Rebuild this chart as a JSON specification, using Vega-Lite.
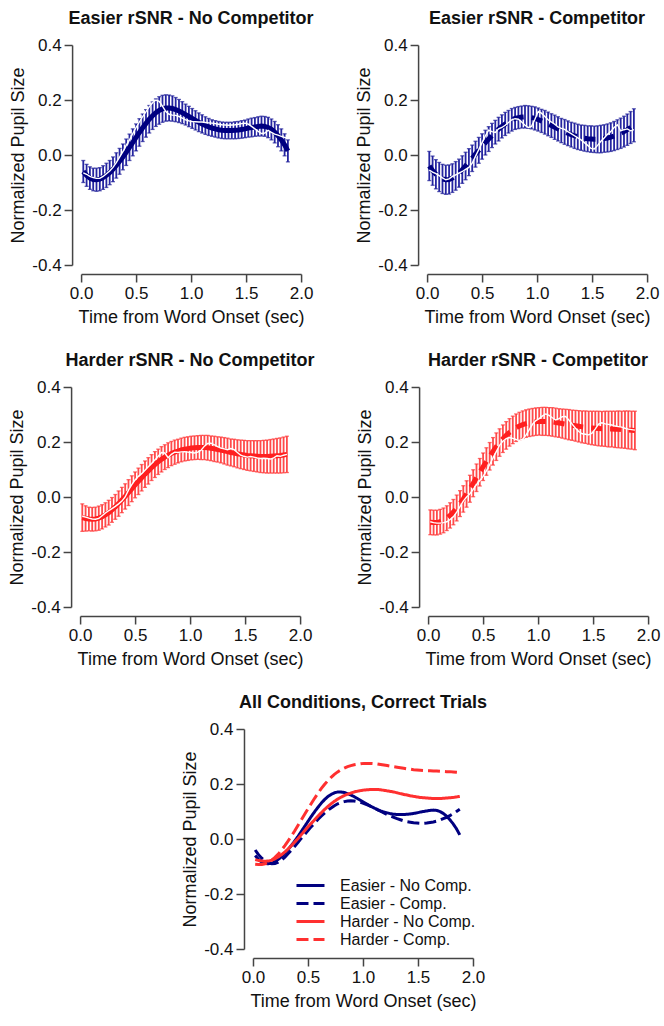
{
"$schema":"https://vega.github.io/schema/vega-lite/v6.json",
"padding":{"left":8,"top":10,"right":5,"bottom":5},
"datasets":{"d":[
{"c":"EN","t":0.02,"f":-0.06,"lo":-0.1,"hi":-0.02,"r":-0.065},
{"c":"EN","t":0.05,"f":-0.074,"lo":-0.114,"hi":-0.034,"r":-0.07},
{"c":"EN","t":0.08,"f":-0.084,"lo":-0.125,"hi":-0.043,"r":-0.078},
{"c":"EN","t":0.11,"f":-0.089,"lo":-0.13,"hi":-0.048,"r":-0.082},
{"c":"EN","t":0.14,"f":-0.09,"lo":-0.132,"hi":-0.048,"r":-0.085},
{"c":"EN","t":0.17,"f":-0.088,"lo":-0.13,"hi":-0.046,"r":-0.085},
{"c":"EN","t":0.2,"f":-0.082,"lo":-0.125,"hi":-0.039,"r":-0.078},
{"c":"EN","t":0.23,"f":-0.074,"lo":-0.118,"hi":-0.03,"r":-0.068},
{"c":"EN","t":0.26,"f":-0.064,"lo":-0.108,"hi":-0.02,"r":-0.058},
{"c":"EN","t":0.29,"f":-0.052,"lo":-0.097,"hi":-0.007,"r":-0.045},
{"c":"EN","t":0.32,"f":-0.038,"lo":-0.084,"hi":0.008,"r":-0.028},
{"c":"EN","t":0.35,"f":-0.023,"lo":-0.07,"hi":0.024,"r":-0.008},
{"c":"EN","t":0.38,"f":-0.007,"lo":-0.054,"hi":0.04,"r":0.012},
{"c":"EN","t":0.41,"f":0.01,"lo":-0.038,"hi":0.058,"r":0.035},
{"c":"EN","t":0.44,"f":0.028,"lo":-0.02,"hi":0.076,"r":0.055},
{"c":"EN","t":0.47,"f":0.046,"lo":-0.003,"hi":0.095,"r":0.078},
{"c":"EN","t":0.5,"f":0.064,"lo":0.015,"hi":0.113,"r":0.1},
{"c":"EN","t":0.53,"f":0.082,"lo":0.032,"hi":0.132,"r":0.12},
{"c":"EN","t":0.56,"f":0.099,"lo":0.049,"hi":0.149,"r":0.14},
{"c":"EN","t":0.59,"f":0.115,"lo":0.065,"hi":0.165,"r":0.158},
{"c":"EN","t":0.62,"f":0.13,"lo":0.08,"hi":0.18,"r":0.175},
{"c":"EN","t":0.65,"f":0.143,"lo":0.093,"hi":0.193,"r":0.19},
{"c":"EN","t":0.68,"f":0.154,"lo":0.104,"hi":0.204,"r":0.2},
{"c":"EN","t":0.71,"f":0.162,"lo":0.112,"hi":0.212,"r":0.195},
{"c":"EN","t":0.74,"f":0.168,"lo":0.119,"hi":0.217,"r":0.178},
{"c":"EN","t":0.77,"f":0.171,"lo":0.123,"hi":0.219,"r":0.158},
{"c":"EN","t":0.8,"f":0.171,"lo":0.124,"hi":0.218,"r":0.148},
{"c":"EN","t":0.83,"f":0.169,"lo":0.123,"hi":0.215,"r":0.145},
{"c":"EN","t":0.86,"f":0.165,"lo":0.121,"hi":0.209,"r":0.144},
{"c":"EN","t":0.89,"f":0.16,"lo":0.118,"hi":0.202,"r":0.14},
{"c":"EN","t":0.92,"f":0.154,"lo":0.114,"hi":0.194,"r":0.134},
{"c":"EN","t":0.95,"f":0.147,"lo":0.109,"hi":0.185,"r":0.128},
{"c":"EN","t":0.98,"f":0.14,"lo":0.103,"hi":0.177,"r":0.124},
{"c":"EN","t":1.01,"f":0.133,"lo":0.097,"hi":0.169,"r":0.122},
{"c":"EN","t":1.04,"f":0.126,"lo":0.091,"hi":0.161,"r":0.121},
{"c":"EN","t":1.07,"f":0.119,"lo":0.085,"hi":0.153,"r":0.12},
{"c":"EN","t":1.1,"f":0.113,"lo":0.08,"hi":0.146,"r":0.12},
{"c":"EN","t":1.13,"f":0.107,"lo":0.075,"hi":0.139,"r":0.118},
{"c":"EN","t":1.16,"f":0.102,"lo":0.071,"hi":0.133,"r":0.117},
{"c":"EN","t":1.19,"f":0.098,"lo":0.068,"hi":0.128,"r":0.116},
{"c":"EN","t":1.22,"f":0.095,"lo":0.065,"hi":0.125,"r":0.114},
{"c":"EN","t":1.25,"f":0.092,"lo":0.062,"hi":0.122,"r":0.112},
{"c":"EN","t":1.28,"f":0.09,"lo":0.06,"hi":0.12,"r":0.11},
{"c":"EN","t":1.31,"f":0.089,"lo":0.059,"hi":0.119,"r":0.109},
{"c":"EN","t":1.34,"f":0.089,"lo":0.059,"hi":0.119,"r":0.108},
{"c":"EN","t":1.37,"f":0.089,"lo":0.059,"hi":0.119,"r":0.109},
{"c":"EN","t":1.4,"f":0.09,"lo":0.059,"hi":0.121,"r":0.11},
{"c":"EN","t":1.43,"f":0.091,"lo":0.06,"hi":0.122,"r":0.112},
{"c":"EN","t":1.46,"f":0.093,"lo":0.061,"hi":0.125,"r":0.114},
{"c":"EN","t":1.49,"f":0.095,"lo":0.063,"hi":0.127,"r":0.116},
{"c":"EN","t":1.52,"f":0.098,"lo":0.065,"hi":0.131,"r":0.112},
{"c":"EN","t":1.55,"f":0.1,"lo":0.066,"hi":0.134,"r":0.104},
{"c":"EN","t":1.58,"f":0.102,"lo":0.068,"hi":0.136,"r":0.095},
{"c":"EN","t":1.61,"f":0.104,"lo":0.069,"hi":0.139,"r":0.086},
{"c":"EN","t":1.64,"f":0.105,"lo":0.069,"hi":0.141,"r":0.078},
{"c":"EN","t":1.67,"f":0.104,"lo":0.068,"hi":0.14,"r":0.08},
{"c":"EN","t":1.7,"f":0.1,"lo":0.063,"hi":0.137,"r":0.09},
{"c":"EN","t":1.73,"f":0.093,"lo":0.055,"hi":0.131,"r":0.082},
{"c":"EN","t":1.76,"f":0.083,"lo":0.044,"hi":0.122,"r":0.076},
{"c":"EN","t":1.79,"f":0.07,"lo":0.03,"hi":0.11,"r":0.072},
{"c":"EN","t":1.82,"f":0.055,"lo":0.015,"hi":0.095,"r":0.068},
{"c":"EN","t":1.85,"f":0.037,"lo":-0.003,"hi":0.077,"r":0.064},
{"c":"EN","t":1.88,"f":0.015,"lo":-0.025,"hi":0.055,"r":0.06},
{"c":"EC","t":0.02,"f":-0.04,"lo":-0.093,"hi":0.013,"r":-0.055},
{"c":"EC","t":0.05,"f":-0.057,"lo":-0.11,"hi":-0.004,"r":-0.062},
{"c":"EC","t":0.08,"f":-0.07,"lo":-0.123,"hi":-0.017,"r":-0.068},
{"c":"EC","t":0.11,"f":-0.08,"lo":-0.133,"hi":-0.027,"r":-0.075},
{"c":"EC","t":0.14,"f":-0.087,"lo":-0.14,"hi":-0.034,"r":-0.083},
{"c":"EC","t":0.17,"f":-0.09,"lo":-0.143,"hi":-0.037,"r":-0.09},
{"c":"EC","t":0.2,"f":-0.089,"lo":-0.142,"hi":-0.036,"r":-0.087},
{"c":"EC","t":0.23,"f":-0.084,"lo":-0.136,"hi":-0.032,"r":-0.078},
{"c":"EC","t":0.26,"f":-0.076,"lo":-0.128,"hi":-0.024,"r":-0.072},
{"c":"EC","t":0.29,"f":-0.066,"lo":-0.117,"hi":-0.015,"r":-0.066},
{"c":"EC","t":0.32,"f":-0.053,"lo":-0.103,"hi":-0.003,"r":-0.06},
{"c":"EC","t":0.35,"f":-0.04,"lo":-0.09,"hi":0.01,"r":-0.052},
{"c":"EC","t":0.38,"f":-0.026,"lo":-0.075,"hi":0.023,"r":-0.045},
{"c":"EC","t":0.41,"f":-0.012,"lo":-0.06,"hi":0.036,"r":-0.03},
{"c":"EC","t":0.44,"f":0.003,"lo":-0.044,"hi":0.05,"r":-0.005},
{"c":"EC","t":0.47,"f":0.017,"lo":-0.03,"hi":0.064,"r":0.02},
{"c":"EC","t":0.5,"f":0.031,"lo":-0.015,"hi":0.077,"r":0.045},
{"c":"EC","t":0.53,"f":0.045,"lo":0.0,"hi":0.09,"r":0.07},
{"c":"EC","t":0.56,"f":0.058,"lo":0.013,"hi":0.103,"r":0.09},
{"c":"EC","t":0.59,"f":0.071,"lo":0.027,"hi":0.115,"r":0.085},
{"c":"EC","t":0.62,"f":0.083,"lo":0.04,"hi":0.126,"r":0.082},
{"c":"EC","t":0.65,"f":0.094,"lo":0.051,"hi":0.137,"r":0.095},
{"c":"EC","t":0.68,"f":0.104,"lo":0.062,"hi":0.146,"r":0.1},
{"c":"EC","t":0.71,"f":0.113,"lo":0.071,"hi":0.155,"r":0.108},
{"c":"EC","t":0.74,"f":0.121,"lo":0.08,"hi":0.162,"r":0.118},
{"c":"EC","t":0.77,"f":0.128,"lo":0.087,"hi":0.169,"r":0.128},
{"c":"EC","t":0.8,"f":0.133,"lo":0.093,"hi":0.173,"r":0.132},
{"c":"EC","t":0.83,"f":0.136,"lo":0.096,"hi":0.176,"r":0.13},
{"c":"EC","t":0.86,"f":0.138,"lo":0.098,"hi":0.178,"r":0.12},
{"c":"EC","t":0.89,"f":0.139,"lo":0.098,"hi":0.18,"r":0.108},
{"c":"EC","t":0.92,"f":0.138,"lo":0.097,"hi":0.179,"r":0.1},
{"c":"EC","t":0.95,"f":0.136,"lo":0.095,"hi":0.177,"r":0.104},
{"c":"EC","t":0.98,"f":0.133,"lo":0.091,"hi":0.175,"r":0.13},
{"c":"EC","t":1.01,"f":0.129,"lo":0.087,"hi":0.171,"r":0.158},
{"c":"EC","t":1.04,"f":0.124,"lo":0.082,"hi":0.166,"r":0.152},
{"c":"EC","t":1.07,"f":0.119,"lo":0.076,"hi":0.162,"r":0.14},
{"c":"EC","t":1.1,"f":0.113,"lo":0.07,"hi":0.156,"r":0.128},
{"c":"EC","t":1.13,"f":0.107,"lo":0.064,"hi":0.15,"r":0.12},
{"c":"EC","t":1.16,"f":0.101,"lo":0.057,"hi":0.145,"r":0.112},
{"c":"EC","t":1.19,"f":0.095,"lo":0.051,"hi":0.139,"r":0.102},
{"c":"EC","t":1.22,"f":0.089,"lo":0.045,"hi":0.133,"r":0.097},
{"c":"EC","t":1.25,"f":0.084,"lo":0.039,"hi":0.129,"r":0.093},
{"c":"EC","t":1.28,"f":0.079,"lo":0.034,"hi":0.124,"r":0.085},
{"c":"EC","t":1.31,"f":0.074,"lo":0.029,"hi":0.119,"r":0.078},
{"c":"EC","t":1.34,"f":0.07,"lo":0.024,"hi":0.116,"r":0.07},
{"c":"EC","t":1.37,"f":0.066,"lo":0.02,"hi":0.112,"r":0.062},
{"c":"EC","t":1.4,"f":0.063,"lo":0.017,"hi":0.109,"r":0.055},
{"c":"EC","t":1.43,"f":0.061,"lo":0.014,"hi":0.108,"r":0.045},
{"c":"EC","t":1.46,"f":0.059,"lo":0.012,"hi":0.106,"r":0.035},
{"c":"EC","t":1.49,"f":0.058,"lo":0.01,"hi":0.106,"r":0.024},
{"c":"EC","t":1.52,"f":0.057,"lo":0.009,"hi":0.105,"r":0.022},
{"c":"EC","t":1.55,"f":0.057,"lo":0.008,"hi":0.106,"r":0.035},
{"c":"EC","t":1.58,"f":0.058,"lo":0.008,"hi":0.108,"r":0.05},
{"c":"EC","t":1.61,"f":0.06,"lo":0.01,"hi":0.11,"r":0.062},
{"c":"EC","t":1.64,"f":0.062,"lo":0.011,"hi":0.113,"r":0.075},
{"c":"EC","t":1.67,"f":0.065,"lo":0.013,"hi":0.117,"r":0.085},
{"c":"EC","t":1.7,"f":0.069,"lo":0.016,"hi":0.122,"r":0.1},
{"c":"EC","t":1.73,"f":0.074,"lo":0.02,"hi":0.128,"r":0.11},
{"c":"EC","t":1.76,"f":0.079,"lo":0.024,"hi":0.134,"r":0.088},
{"c":"EC","t":1.79,"f":0.085,"lo":0.029,"hi":0.141,"r":0.092},
{"c":"EC","t":1.82,"f":0.092,"lo":0.035,"hi":0.149,"r":0.095},
{"c":"EC","t":1.85,"f":0.1,"lo":0.042,"hi":0.158,"r":0.088},
{"c":"EC","t":1.88,"f":0.108,"lo":0.048,"hi":0.168,"r":0.092},
{"c":"HN","t":0.02,"f":-0.075,"lo":-0.125,"hi":-0.025,"r":-0.07},
{"c":"HN","t":0.05,"f":-0.078,"lo":-0.124,"hi":-0.032,"r":-0.073},
{"c":"HN","t":0.08,"f":-0.08,"lo":-0.123,"hi":-0.037,"r":-0.077},
{"c":"HN","t":0.11,"f":-0.081,"lo":-0.124,"hi":-0.038,"r":-0.08},
{"c":"HN","t":0.14,"f":-0.08,"lo":-0.123,"hi":-0.037,"r":-0.081},
{"c":"HN","t":0.17,"f":-0.077,"lo":-0.121,"hi":-0.033,"r":-0.078},
{"c":"HN","t":0.2,"f":-0.072,"lo":-0.116,"hi":-0.028,"r":-0.068},
{"c":"HN","t":0.23,"f":-0.065,"lo":-0.109,"hi":-0.021,"r":-0.058},
{"c":"HN","t":0.26,"f":-0.057,"lo":-0.102,"hi":-0.012,"r":-0.05},
{"c":"HN","t":0.29,"f":-0.047,"lo":-0.092,"hi":-0.002,"r":-0.042},
{"c":"HN","t":0.32,"f":-0.036,"lo":-0.081,"hi":0.009,"r":-0.034},
{"c":"HN","t":0.35,"f":-0.024,"lo":-0.07,"hi":0.022,"r":-0.025},
{"c":"HN","t":0.38,"f":-0.011,"lo":-0.057,"hi":0.035,"r":-0.015},
{"c":"HN","t":0.41,"f":0.002,"lo":-0.044,"hi":0.048,"r":0.0},
{"c":"HN","t":0.44,"f":0.016,"lo":-0.031,"hi":0.063,"r":0.025},
{"c":"HN","t":0.47,"f":0.03,"lo":-0.017,"hi":0.077,"r":0.045},
{"c":"HN","t":0.5,"f":0.044,"lo":-0.003,"hi":0.091,"r":0.062},
{"c":"HN","t":0.53,"f":0.057,"lo":0.009,"hi":0.105,"r":0.075},
{"c":"HN","t":0.56,"f":0.07,"lo":0.022,"hi":0.118,"r":0.085},
{"c":"HN","t":0.59,"f":0.083,"lo":0.035,"hi":0.131,"r":0.097},
{"c":"HN","t":0.62,"f":0.095,"lo":0.047,"hi":0.143,"r":0.11},
{"c":"HN","t":0.65,"f":0.107,"lo":0.06,"hi":0.154,"r":0.122},
{"c":"HN","t":0.68,"f":0.118,"lo":0.071,"hi":0.165,"r":0.135},
{"c":"HN","t":0.71,"f":0.128,"lo":0.082,"hi":0.174,"r":0.148},
{"c":"HN","t":0.74,"f":0.137,"lo":0.091,"hi":0.183,"r":0.162},
{"c":"HN","t":0.77,"f":0.145,"lo":0.1,"hi":0.19,"r":0.16},
{"c":"HN","t":0.8,"f":0.152,"lo":0.107,"hi":0.197,"r":0.143},
{"c":"HN","t":0.83,"f":0.158,"lo":0.114,"hi":0.202,"r":0.155},
{"c":"HN","t":0.86,"f":0.163,"lo":0.119,"hi":0.207,"r":0.163},
{"c":"HN","t":0.89,"f":0.167,"lo":0.124,"hi":0.21,"r":0.162},
{"c":"HN","t":0.92,"f":0.171,"lo":0.128,"hi":0.214,"r":0.164},
{"c":"HN","t":0.95,"f":0.174,"lo":0.131,"hi":0.217,"r":0.165},
{"c":"HN","t":0.98,"f":0.176,"lo":0.133,"hi":0.219,"r":0.163},
{"c":"HN","t":1.01,"f":0.178,"lo":0.135,"hi":0.221,"r":0.162},
{"c":"HN","t":1.04,"f":0.179,"lo":0.136,"hi":0.222,"r":0.16},
{"c":"HN","t":1.07,"f":0.18,"lo":0.137,"hi":0.223,"r":0.163},
{"c":"HN","t":1.1,"f":0.18,"lo":0.136,"hi":0.224,"r":0.17},
{"c":"HN","t":1.13,"f":0.18,"lo":0.136,"hi":0.224,"r":0.185},
{"c":"HN","t":1.16,"f":0.179,"lo":0.134,"hi":0.224,"r":0.195},
{"c":"HN","t":1.19,"f":0.177,"lo":0.132,"hi":0.222,"r":0.196},
{"c":"HN","t":1.22,"f":0.175,"lo":0.129,"hi":0.221,"r":0.19},
{"c":"HN","t":1.25,"f":0.173,"lo":0.127,"hi":0.219,"r":0.183},
{"c":"HN","t":1.28,"f":0.171,"lo":0.124,"hi":0.218,"r":0.178},
{"c":"HN","t":1.31,"f":0.168,"lo":0.12,"hi":0.216,"r":0.175},
{"c":"HN","t":1.34,"f":0.165,"lo":0.116,"hi":0.214,"r":0.172},
{"c":"HN","t":1.37,"f":0.162,"lo":0.113,"hi":0.211,"r":0.176},
{"c":"HN","t":1.4,"f":0.16,"lo":0.11,"hi":0.21,"r":0.172},
{"c":"HN","t":1.43,"f":0.157,"lo":0.106,"hi":0.208,"r":0.162},
{"c":"HN","t":1.46,"f":0.155,"lo":0.103,"hi":0.207,"r":0.152},
{"c":"HN","t":1.49,"f":0.153,"lo":0.1,"hi":0.206,"r":0.148},
{"c":"HN","t":1.52,"f":0.151,"lo":0.097,"hi":0.205,"r":0.145},
{"c":"HN","t":1.55,"f":0.15,"lo":0.095,"hi":0.205,"r":0.147},
{"c":"HN","t":1.58,"f":0.149,"lo":0.093,"hi":0.205,"r":0.145},
{"c":"HN","t":1.61,"f":0.148,"lo":0.091,"hi":0.205,"r":0.142},
{"c":"HN","t":1.64,"f":0.147,"lo":0.089,"hi":0.205,"r":0.14},
{"c":"HN","t":1.67,"f":0.147,"lo":0.088,"hi":0.206,"r":0.141},
{"c":"HN","t":1.7,"f":0.147,"lo":0.087,"hi":0.207,"r":0.14},
{"c":"HN","t":1.73,"f":0.148,"lo":0.087,"hi":0.209,"r":0.138},
{"c":"HN","t":1.76,"f":0.149,"lo":0.087,"hi":0.211,"r":0.142},
{"c":"HN","t":1.79,"f":0.15,"lo":0.087,"hi":0.213,"r":0.15},
{"c":"HN","t":1.82,"f":0.151,"lo":0.087,"hi":0.215,"r":0.148},
{"c":"HN","t":1.85,"f":0.153,"lo":0.088,"hi":0.218,"r":0.152},
{"c":"HN","t":1.88,"f":0.155,"lo":0.089,"hi":0.221,"r":0.155},
{"c":"HC","t":0.02,"f":-0.092,"lo":-0.137,"hi":-0.047,"r":-0.09},
{"c":"HC","t":0.05,"f":-0.093,"lo":-0.138,"hi":-0.048,"r":-0.093},
{"c":"HC","t":0.08,"f":-0.093,"lo":-0.138,"hi":-0.048,"r":-0.095},
{"c":"HC","t":0.11,"f":-0.09,"lo":-0.135,"hi":-0.045,"r":-0.095},
{"c":"HC","t":0.14,"f":-0.085,"lo":-0.13,"hi":-0.04,"r":-0.093},
{"c":"HC","t":0.17,"f":-0.077,"lo":-0.122,"hi":-0.032,"r":-0.09},
{"c":"HC","t":0.2,"f":-0.067,"lo":-0.113,"hi":-0.021,"r":-0.082},
{"c":"HC","t":0.23,"f":-0.055,"lo":-0.101,"hi":-0.009,"r":-0.072},
{"c":"HC","t":0.26,"f":-0.04,"lo":-0.087,"hi":0.007,"r":-0.055},
{"c":"HC","t":0.29,"f":-0.024,"lo":-0.071,"hi":0.023,"r":-0.035},
{"c":"HC","t":0.32,"f":-0.007,"lo":-0.055,"hi":0.041,"r":-0.015},
{"c":"HC","t":0.35,"f":0.011,"lo":-0.037,"hi":0.059,"r":0.0},
{"c":"HC","t":0.38,"f":0.03,"lo":-0.019,"hi":0.079,"r":0.012},
{"c":"HC","t":0.41,"f":0.05,"lo":0.001,"hi":0.099,"r":0.028},
{"c":"HC","t":0.44,"f":0.07,"lo":0.02,"hi":0.12,"r":0.045},
{"c":"HC","t":0.47,"f":0.09,"lo":0.04,"hi":0.14,"r":0.06},
{"c":"HC","t":0.5,"f":0.11,"lo":0.06,"hi":0.16,"r":0.075},
{"c":"HC","t":0.53,"f":0.129,"lo":0.079,"hi":0.179,"r":0.095},
{"c":"HC","t":0.56,"f":0.148,"lo":0.098,"hi":0.198,"r":0.118},
{"c":"HC","t":0.59,"f":0.166,"lo":0.116,"hi":0.216,"r":0.142},
{"c":"HC","t":0.62,"f":0.183,"lo":0.133,"hi":0.233,"r":0.165},
{"c":"HC","t":0.65,"f":0.198,"lo":0.148,"hi":0.248,"r":0.188},
{"c":"HC","t":0.68,"f":0.212,"lo":0.162,"hi":0.262,"r":0.203},
{"c":"HC","t":0.71,"f":0.224,"lo":0.174,"hi":0.274,"r":0.212},
{"c":"HC","t":0.74,"f":0.235,"lo":0.185,"hi":0.285,"r":0.216},
{"c":"HC","t":0.77,"f":0.244,"lo":0.194,"hi":0.294,"r":0.213},
{"c":"HC","t":0.8,"f":0.252,"lo":0.202,"hi":0.302,"r":0.209},
{"c":"HC","t":0.83,"f":0.258,"lo":0.208,"hi":0.308,"r":0.206},
{"c":"HC","t":0.86,"f":0.263,"lo":0.213,"hi":0.313,"r":0.21},
{"c":"HC","t":0.89,"f":0.267,"lo":0.217,"hi":0.317,"r":0.225},
{"c":"HC","t":0.92,"f":0.27,"lo":0.22,"hi":0.32,"r":0.245},
{"c":"HC","t":0.95,"f":0.272,"lo":0.222,"hi":0.322,"r":0.265},
{"c":"HC","t":0.98,"f":0.274,"lo":0.224,"hi":0.324,"r":0.278},
{"c":"HC","t":1.01,"f":0.275,"lo":0.225,"hi":0.325,"r":0.285},
{"c":"HC","t":1.04,"f":0.275,"lo":0.224,"hi":0.326,"r":0.295},
{"c":"HC","t":1.07,"f":0.275,"lo":0.224,"hi":0.326,"r":0.302},
{"c":"HC","t":1.1,"f":0.274,"lo":0.223,"hi":0.325,"r":0.297},
{"c":"HC","t":1.13,"f":0.273,"lo":0.221,"hi":0.325,"r":0.288},
{"c":"HC","t":1.16,"f":0.271,"lo":0.219,"hi":0.323,"r":0.28},
{"c":"HC","t":1.19,"f":0.269,"lo":0.217,"hi":0.321,"r":0.285},
{"c":"HC","t":1.22,"f":0.267,"lo":0.214,"hi":0.32,"r":0.292},
{"c":"HC","t":1.25,"f":0.265,"lo":0.211,"hi":0.319,"r":0.293},
{"c":"HC","t":1.28,"f":0.263,"lo":0.208,"hi":0.318,"r":0.28},
{"c":"HC","t":1.31,"f":0.261,"lo":0.206,"hi":0.316,"r":0.265},
{"c":"HC","t":1.34,"f":0.259,"lo":0.203,"hi":0.315,"r":0.25},
{"c":"HC","t":1.37,"f":0.257,"lo":0.2,"hi":0.314,"r":0.238},
{"c":"HC","t":1.4,"f":0.255,"lo":0.197,"hi":0.313,"r":0.23},
{"c":"HC","t":1.43,"f":0.254,"lo":0.195,"hi":0.313,"r":0.228},
{"c":"HC","t":1.46,"f":0.252,"lo":0.192,"hi":0.312,"r":0.226},
{"c":"HC","t":1.49,"f":0.251,"lo":0.19,"hi":0.312,"r":0.232},
{"c":"HC","t":1.52,"f":0.25,"lo":0.188,"hi":0.312,"r":0.248},
{"c":"HC","t":1.55,"f":0.249,"lo":0.186,"hi":0.312,"r":0.265},
{"c":"HC","t":1.58,"f":0.248,"lo":0.185,"hi":0.311,"r":0.27},
{"c":"HC","t":1.61,"f":0.248,"lo":0.184,"hi":0.312,"r":0.266},
{"c":"HC","t":1.64,"f":0.247,"lo":0.182,"hi":0.312,"r":0.264},
{"c":"HC","t":1.67,"f":0.247,"lo":0.182,"hi":0.312,"r":0.262},
{"c":"HC","t":1.7,"f":0.246,"lo":0.18,"hi":0.312,"r":0.258},
{"c":"HC","t":1.73,"f":0.246,"lo":0.179,"hi":0.313,"r":0.256},
{"c":"HC","t":1.76,"f":0.245,"lo":0.178,"hi":0.312,"r":0.254},
{"c":"HC","t":1.79,"f":0.245,"lo":0.177,"hi":0.313,"r":0.25},
{"c":"HC","t":1.82,"f":0.244,"lo":0.175,"hi":0.313,"r":0.247},
{"c":"HC","t":1.85,"f":0.243,"lo":0.174,"hi":0.312,"r":0.245},
{"c":"HC","t":1.88,"f":0.242,"lo":0.172,"hi":0.312,"r":0.243}
]},
"vconcat":[
{"hconcat":[
{"width":220,"height":220,"title":"Easier rSNR - No Competitor","data":{"name":"d"},"transform":[{"filter":"datum.c==='EN'"}],
"encoding":{"x":{"field":"t","type":"quantitative","scale":{"domain":[0,2]},"axis":{"values":[0,0.5,1,1.5,2],"format":".1f"},"title":"Time from Word Onset (sec)"}},
"layer":[
{"mark":{"type":"rule","color":"#2424a0","strokeWidth":1.8},"encoding":{"y":{"field":"lo","type":"quantitative","scale":{"domain":[-0.4,0.4]},"axis":{"values":[-0.4,-0.2,0,0.2,0.4],"labelExpr":"replace(format(datum.value,'.1f'),'\u2212','-')"},"title":"Normalized Pupil Size"},"y2":{"field":"hi"}}},
{"mark":{"type":"tick","orient":"horizontal","size":4,"thickness":1.3,"color":"#1a1a96"},"encoding":{"y":{"field":"lo","type":"quantitative","scale":{"domain":[-0.4,0.4]},"title":"Normalized Pupil Size"}}},
{"mark":{"type":"tick","orient":"horizontal","size":4,"thickness":1.3,"color":"#1a1a96"},"encoding":{"y":{"field":"hi","type":"quantitative","scale":{"domain":[-0.4,0.4]},"title":"Normalized Pupil Size"}}},
{"mark":{"type":"line","color":"#000080","strokeWidth":5},"encoding":{"y":{"field":"f","type":"quantitative","scale":{"domain":[-0.4,0.4]},"title":"Normalized Pupil Size"}}},
{"mark":{"type":"line","color":"white","strokeWidth":1.4},"encoding":{"y":{"field":"r","type":"quantitative","scale":{"domain":[-0.4,0.4]},"title":"Normalized Pupil Size"}}}
]},
{"width":220,"height":220,"title":"Easier rSNR - Competitor","data":{"name":"d"},"transform":[{"filter":"datum.c==='EC'"}],
"encoding":{"x":{"field":"t","type":"quantitative","scale":{"domain":[0,2]},"axis":{"values":[0,0.5,1,1.5,2],"format":".1f"},"title":"Time from Word Onset (sec)"}},
"layer":[
{"mark":{"type":"rule","color":"#2424a0","strokeWidth":1.8},"encoding":{"y":{"field":"lo","type":"quantitative","scale":{"domain":[-0.4,0.4]},"axis":{"values":[-0.4,-0.2,0,0.2,0.4],"labelExpr":"replace(format(datum.value,'.1f'),'\u2212','-')"},"title":"Normalized Pupil Size"},"y2":{"field":"hi"}}},
{"mark":{"type":"tick","orient":"horizontal","size":4,"thickness":1.3,"color":"#1a1a96"},"encoding":{"y":{"field":"lo","type":"quantitative","scale":{"domain":[-0.4,0.4]},"title":"Normalized Pupil Size"}}},
{"mark":{"type":"tick","orient":"horizontal","size":4,"thickness":1.3,"color":"#1a1a96"},"encoding":{"y":{"field":"hi","type":"quantitative","scale":{"domain":[-0.4,0.4]},"title":"Normalized Pupil Size"}}},
{"mark":{"type":"line","color":"#000080","strokeWidth":5,"strokeDash":[11,8]},"encoding":{"y":{"field":"f","type":"quantitative","scale":{"domain":[-0.4,0.4]},"title":"Normalized Pupil Size"}}},
{"mark":{"type":"line","color":"white","strokeWidth":1.4},"encoding":{"y":{"field":"r","type":"quantitative","scale":{"domain":[-0.4,0.4]},"title":"Normalized Pupil Size"}}}
]}
],"spacing":41},
{"hconcat":[
{"width":220,"height":220,"title":"Harder rSNR - No Competitor","data":{"name":"d"},"transform":[{"filter":"datum.c==='HN'"}],
"encoding":{"x":{"field":"t","type":"quantitative","scale":{"domain":[0,2]},"axis":{"values":[0,0.5,1,1.5,2],"format":".1f"},"title":"Time from Word Onset (sec)"}},
"layer":[
{"mark":{"type":"rule","color":"#ff4a4a","strokeWidth":1.8},"encoding":{"y":{"field":"lo","type":"quantitative","scale":{"domain":[-0.4,0.4]},"axis":{"values":[-0.4,-0.2,0,0.2,0.4],"labelExpr":"replace(format(datum.value,'.1f'),'\u2212','-')"},"title":"Normalized Pupil Size"},"y2":{"field":"hi"}}},
{"mark":{"type":"tick","orient":"horizontal","size":4,"thickness":1.3,"color":"#ff3030"},"encoding":{"y":{"field":"lo","type":"quantitative","scale":{"domain":[-0.4,0.4]},"title":"Normalized Pupil Size"}}},
{"mark":{"type":"tick","orient":"horizontal","size":4,"thickness":1.3,"color":"#ff3030"},"encoding":{"y":{"field":"hi","type":"quantitative","scale":{"domain":[-0.4,0.4]},"title":"Normalized Pupil Size"}}},
{"mark":{"type":"line","color":"#ff2020","strokeWidth":5},"encoding":{"y":{"field":"f","type":"quantitative","scale":{"domain":[-0.4,0.4]},"title":"Normalized Pupil Size"}}},
{"mark":{"type":"line","color":"white","strokeWidth":1.4},"encoding":{"y":{"field":"r","type":"quantitative","scale":{"domain":[-0.4,0.4]},"title":"Normalized Pupil Size"}}}
]},
{"width":220,"height":220,"title":"Harder rSNR - Competitor","data":{"name":"d"},"transform":[{"filter":"datum.c==='HC'"}],
"encoding":{"x":{"field":"t","type":"quantitative","scale":{"domain":[0,2]},"axis":{"values":[0,0.5,1,1.5,2],"format":".1f"},"title":"Time from Word Onset (sec)"}},
"layer":[
{"mark":{"type":"rule","color":"#ff4a4a","strokeWidth":1.8},"encoding":{"y":{"field":"lo","type":"quantitative","scale":{"domain":[-0.4,0.4]},"axis":{"values":[-0.4,-0.2,0,0.2,0.4],"labelExpr":"replace(format(datum.value,'.1f'),'\u2212','-')"},"title":"Normalized Pupil Size"},"y2":{"field":"hi"}}},
{"mark":{"type":"tick","orient":"horizontal","size":4,"thickness":1.3,"color":"#ff3030"},"encoding":{"y":{"field":"lo","type":"quantitative","scale":{"domain":[-0.4,0.4]},"title":"Normalized Pupil Size"}}},
{"mark":{"type":"tick","orient":"horizontal","size":4,"thickness":1.3,"color":"#ff3030"},"encoding":{"y":{"field":"hi","type":"quantitative","scale":{"domain":[-0.4,0.4]},"title":"Normalized Pupil Size"}}},
{"mark":{"type":"line","color":"#ff2020","strokeWidth":5,"strokeDash":[11,8]},"encoding":{"y":{"field":"f","type":"quantitative","scale":{"domain":[-0.4,0.4]},"title":"Normalized Pupil Size"}}},
{"mark":{"type":"line","color":"white","strokeWidth":1.4},"encoding":{"y":{"field":"r","type":"quantitative","scale":{"domain":[-0.4,0.4]},"title":"Normalized Pupil Size"}}}
]}
],"spacing":41},
{"width":220,"height":220,"title":"All Conditions, Correct Trials","data":{"name":"d"},
"mark":{"type":"line","strokeWidth":3},
"encoding":{
"x":{"field":"t","type":"quantitative","scale":{"domain":[0,2]},"axis":{"values":[0,0.5,1,1.5,2],"format":".1f"},"title":"Time from Word Onset (sec)"},
"y":{"field":"f","type":"quantitative","scale":{"domain":[-0.4,0.4]},"axis":{"values":[-0.4,-0.2,0,0.2,0.4],"labelExpr":"replace(format(datum.value,'.1f'),'\u2212','-')"},"title":"Normalized Pupil Size"},
"color":{"field":"c","type":"nominal","scale":{"domain":["EN","EC","HN","HC"],"range":["#000080","#000080","#ff3030","#ff3030"]},"legend":{"title":null,"orient":"none","legendX":42,"legendY":148,"padding":0,"labelExpr":"datum.label==='EN'?'Easier - No Comp.':datum.label==='EC'?'Easier - Comp.':datum.label==='HN'?'Harder - No Comp.':'Harder - Comp.'","symbolType":"M-1,0H3","symbolSize":196,"symbolStrokeWidth":3,"labelFontSize":16,"labelOffset":28,"rowPadding":1,"labelColor":"#111"}},
"strokeDash":{"field":"c","type":"nominal","scale":{"domain":["EN","EC","HN","HC"],"range":[[1,0],[12,5],[1,0],[12,5]]},"legend":{"title":null,"orient":"none","legendX":42,"legendY":148,"padding":0,"labelExpr":"datum.label==='EN'?'Easier - No Comp.':datum.label==='EC'?'Easier - Comp.':datum.label==='HN'?'Harder - No Comp.':'Harder - Comp.'","symbolType":"M-1,0H3","symbolSize":196,"symbolStrokeWidth":3,"labelFontSize":16,"labelOffset":28,"rowPadding":1,"labelColor":"#111"}}
}}
],
"resolve":{"legend":{"color":"independent","strokeDash":"independent"}},
"spacing":26,
"center":true,
"config":{
"font":"Liberation Sans",
"view":{"stroke":null},
"axis":{"grid":false,"offset":9,"tickSize":8,"domainColor":"#444","tickColor":"#444","domainWidth":1.5,"tickWidth":1.5,"labelFontSize":17,"labelColor":"#111","titleFontSize":18,"titleFontWeight":"normal","titleColor":"#111","labelPadding":3,"labelFlush":false},
"axisX":{"titlePadding":7},
"axisY":{"titlePadding":4},
"title":{"fontSize":18,"fontWeight":"bold","frame":"group","offset":8,"color":"#111"}
}
}
